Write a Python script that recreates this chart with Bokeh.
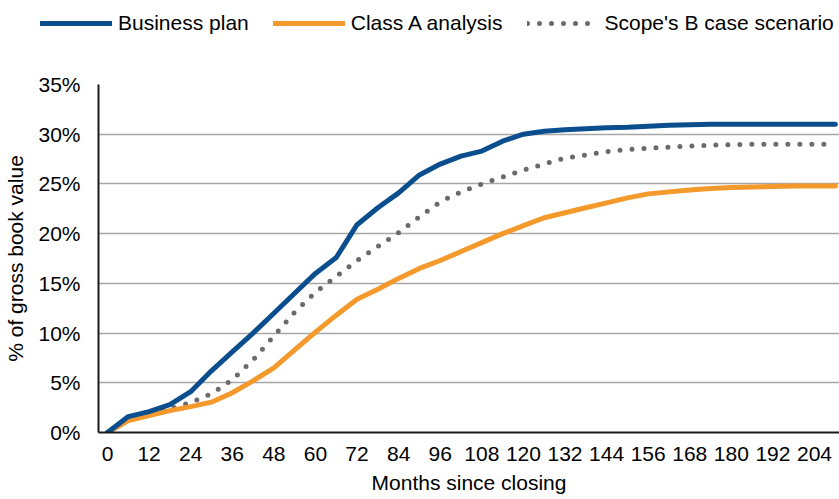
from bokeh.plotting import figure
from bokeh.layouts import column, row
from bokeh.models import Range1d, FixedTicker, PrintfTickFormatter, Legend, LegendItem
from bokeh.embed import file_html
from bokeh.resources import INLINE

months = [0, 6, 12, 18, 24, 30, 36, 42, 48, 54, 60, 66, 72, 78, 84, 90, 96, 102,
          108, 114, 120, 126, 132, 138, 144, 150, 156, 162, 168, 174, 180, 186,
          192, 198, 204, 210]
business_plan = [0, 1.6, 2.1, 2.8, 4.1, 6.2, 8.1, 10.0, 12.0, 14.0, 16.0, 17.6,
                 20.9, 22.6, 24.1, 25.9, 27.0, 27.8, 28.3, 29.3, 30.0, 30.3,
                 30.45, 30.55, 30.65, 30.7, 30.8, 30.9, 30.95, 31.0, 31.0, 31.0,
                 31.0, 31.0, 31.0, 31.0]
class_a = [0, 1.2, 1.7, 2.2, 2.6, 3.05, 4.0, 5.2, 6.5, 8.3, 10.1, 11.8, 13.4,
           14.4, 15.5, 16.5, 17.3, 18.2, 19.1, 20.0, 20.8, 21.6, 22.1, 22.6,
           23.1, 23.6, 24.0, 24.2, 24.4, 24.55, 24.65, 24.7, 24.75, 24.8, 24.8,
           24.8]
scope_b = [0, 1.35, 1.9, 2.4, 3.0, 3.9, 5.3, 7.3, 9.7, 12.1, 14.1, 15.7, 17.3,
           18.7, 20.1, 21.7, 23.2, 24.2, 25.0, 25.7, 26.4, 27.0, 27.6, 27.9,
           28.25, 28.45, 28.6, 28.7, 28.8, 28.9, 28.95, 29.0, 29.0, 29.0, 29.0,
           29.0]
series_names = ["Business plan", "Class A analysis", "Scope's B case scenario"]
x_ticks = [0, 12, 24, 36, 48, 60, 72, 84, 96, 108, 120, 132, 144, 156, 168,
           180, 192, 204]
y_ticks = [0, 5, 10, 15, 20, 25, 30, 35]

FONT = "Liberation Sans"
FS = "21px"
BLUE = "#0A4E8E"
ORANGE = "#F4992C"
GRAY = "#6A6A6A"
styles = [dict(line_color=BLUE, line_width=5, line_cap="round", line_join="round"),
          dict(line_color=ORANGE, line_width=5, line_cap="round", line_join="round"),
          dict(line_color=GRAY, line_width=5, line_dash="0 12", line_cap="round",
               line_join="round")]
NAN = float("nan")

# ---- legend strip (top) ----
LEG_H = 45
pl = figure(width=839, height=LEG_H, output_backend="svg", toolbar_location=None,
            x_range=Range1d(0, 839), y_range=Range1d(0, LEG_H),
            x_axis_type=None, y_axis_type=None,
            min_border_left=0, min_border_right=0, min_border_top=0,
            min_border_bottom=0)
pl.outline_line_color = None
pl.xgrid.visible = False
pl.ygrid.visible = False
leg_renderers = [pl.line(x=[NAN], y=[NAN], **st) for st in styles]
legend = Legend(items=[LegendItem(label=n, renderers=[r])
                       for n, r in zip(series_names, leg_renderers)],
                location=(40, 10), orientation="horizontal",
                glyph_width=72, glyph_height=20, label_standoff=6, spacing=24,
                padding=0, margin=0, border_line_color=None,
                background_fill_alpha=0, label_text_font=FONT,
                label_text_font_size=FS, label_text_color="black")
pl.add_layout(legend)

# ---- main chart ----
p = figure(width=839, height=499 - LEG_H, output_backend="svg", toolbar_location=None,
           x_range=Range1d(-2.6, 211.2), y_range=Range1d(0, 35),
           min_border_left=98, min_border_right=0, min_border_top=84 - LEG_H,
           min_border_bottom=67)
p.outline_line_color = None
p.background_fill_color = "white"
p.border_fill_color = "white"

p.xgrid.grid_line_color = None
p.ygrid.grid_line_color = "#A6A6A6"
p.ygrid.grid_line_width = 1.5
p.ygrid.ticker = FixedTicker(ticks=y_ticks)

for ax in (p.xaxis[0], p.yaxis[0]):
    ax.axis_line_color = "#1A1A1A"
    ax.axis_line_width = 2
    ax.major_tick_line_color = None
    ax.minor_tick_line_color = None
    ax.major_tick_out = 0
    ax.major_tick_in = 0
    ax.major_label_text_font = FONT
    ax.major_label_text_font_size = FS
    ax.major_label_text_color = "black"
    ax.axis_label_text_font = FONT
    ax.axis_label_text_font_size = FS
    ax.axis_label_text_font_style = "normal"
    ax.axis_label_text_color = "black"

p.xaxis.ticker = FixedTicker(ticks=x_ticks)
p.xaxis.major_label_standoff = 14
p.xaxis.axis_label = "Months since closing"
p.xaxis.axis_label_standoff = 7

p.yaxis.ticker = FixedTicker(ticks=y_ticks)
p.yaxis.formatter = PrintfTickFormatter(format="%d%%")
p.yaxis.major_label_standoff = 18
p.yaxis.axis_label = "% of gross book value"
p.yaxis.axis_label_standoff = 8

p.line(months, scope_b, **styles[2])
p.line(months, class_a, **styles[1])
p.line(months, business_plan, **styles[0])

layout = column(row(pl), row(p), spacing=0)
open("out.html", "w").write(file_html(layout, INLINE))
